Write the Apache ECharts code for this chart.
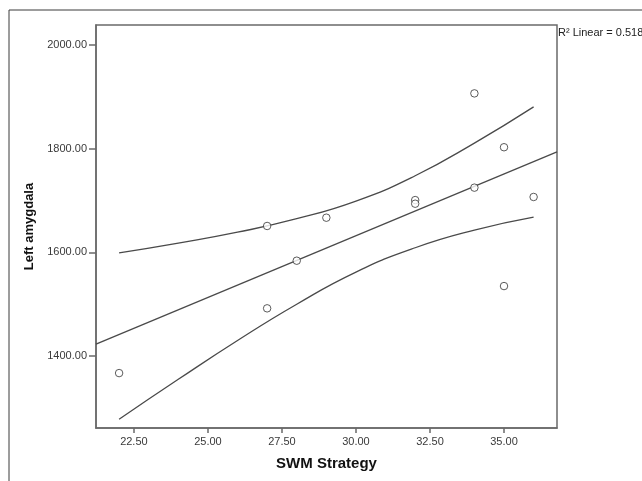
<!DOCTYPE html>
<html>
<head>
<meta charset="utf-8">
<script src="https://cdn.jsdelivr.net/npm/echarts@6/dist/echarts.min.js"></script>
<style>html,body{margin:0;padding:0;background:#fff;}#c{width:642px;height:481px;}</style>
</head>
<body>
<div id="c"></div>
<script>
// Observed points
const swmStrategy = [22, 27, 27, 28, 29, 32, 32, 34, 34, 35, 35, 36];
const leftAmygdala = [1367, 1492, 1651, 1584, 1667, 1701, 1694, 1907, 1725, 1803, 1535, 1707];
// Fit line (read at plot edges)
const fitX = [21.22, 36.79];
const fitY = [1423, 1794];
// Confidence band curves
const bandX = [22, 24, 26, 28, 30, 32, 34, 36];
const upperY = [1599, 1618, 1639, 1665, 1699, 1748, 1811, 1881];
const lowerY = [1278, 1355, 1430, 1500, 1562, 1609, 1643, 1668];
// Tick labels
const xTicks = [22.5, 25, 27.5, 30, 32.5, 35];
const yTicks = [1400, 1600, 1800, 2000];
const r2Label = 'R\u00B2 Linear = 0.518';

const zip = (a, b) => a.map((v, i) => [v, b[i]]);
const axisCol = '#6a6a6a';
const lineCol = '#4a4a4a';
const font = 'Liberation Sans, Arial, sans-serif';

const chart = echarts.init(document.getElementById('c'), null, {renderer: 'canvas'});
chart.setOption({
  animation: false,
  backgroundColor: '#fff',
  grid: {left: 96, right: 85, top: 25, bottom: 53, show: true, borderColor: axisCol, borderWidth: 1.5, containLabel: false, outerBoundsMode: 'none'},
  xAxis: {
    type: 'value', min: 21.22, max: 36.79,
    name: 'SWM Strategy', nameLocation: 'middle', nameGap: 28,
    nameTextStyle: {fontFamily: font, fontWeight: 'bold', fontSize: 15, color: '#111'},
    axisLine: {show: true, lineStyle: {color: axisCol, width: 1.5}},
    axisTick: {show: true, length: 5, lineStyle: {color: axisCol, width: 1.5}, customValues: xTicks},
    axisLabel: {customValues: xTicks, margin: 8, fontFamily: font, fontSize: 11, color: '#3a3a3a', formatter: v => Number(v).toFixed(2)},
    splitLine: {show: false}
  },
  yAxis: {
    type: 'value', min: 1261, max: 2039,
    name: 'Left amygdala', nameLocation: 'middle', nameGap: 57, nameRotate: 90,
    nameTextStyle: {fontFamily: font, fontWeight: 'bold', fontSize: 13, color: '#111'},
    axisLine: {show: true, lineStyle: {color: axisCol, width: 1.5}},
    axisTick: {show: true, length: 7, lineStyle: {color: axisCol, width: 1.5}, customValues: yTicks},
    axisLabel: {customValues: yTicks, margin: 9, fontFamily: font, fontSize: 11, color: '#3a3a3a', formatter: v => Number(v).toFixed(2)},
    splitLine: {show: false}
  },
  graphic: [
    {type: 'rect', shape: {x: 9, y: 10, width: 700, height: 520}, style: {fill: 'none', stroke: '#3a3a3a', lineWidth: 1}, silent: true, z: -1},
    {type: 'text', x: 558, y: 27, style: {text: r2Label, fontFamily: font, fontSize: 11, fill: '#222'}}
  ],
  series: [
    {type: 'line', data: zip(fitX, fitY), showSymbol: false, symbol: 'none', lineStyle: {color: lineCol, width: 1.3}, clip: true},
    {type: 'line', data: zip(bandX, upperY), smooth: true, symbol: 'none', lineStyle: {color: lineCol, width: 1.3}},
    {type: 'line', data: zip(bandX, lowerY), smooth: true, symbol: 'none', lineStyle: {color: lineCol, width: 1.3}},
    {type: 'scatter', data: zip(swmStrategy, leftAmygdala), symbol: 'circle', symbolSize: 7.5,
     itemStyle: {color: '#fff', borderColor: '#333', borderWidth: 1}, z: 5}
  ]
});
</script>
</body>
</html>
